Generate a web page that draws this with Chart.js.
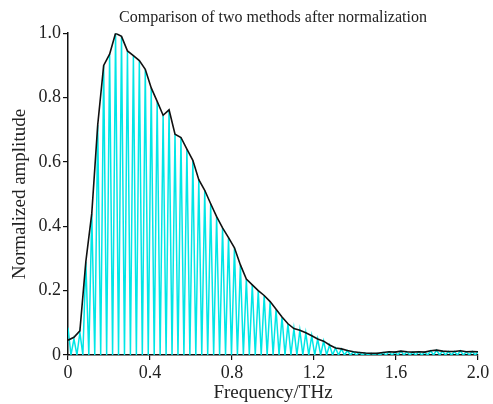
<!DOCTYPE html>
<html>
<head>
<meta charset="utf-8">
<script src="https://cdn.jsdelivr.net/npm/chart.js@4"></script>
<style>
	body { margin: 0; background: #fff; }
	#wrap { width: 493px; height: 404px; }
</style>
</head>
<body>
<div id="wrap"><canvas id="myChart" width="493" height="404"></canvas></div>
<script>
// Frequency samples (THz)
const frequency = [
	0, 0.029, 0.058, 0.087, 0.116, 0.145, 0.174, 0.203, 0.232, 0.261,
	0.29, 0.319, 0.348, 0.377, 0.406, 0.435, 0.464, 0.493, 0.522, 0.551,
	0.58, 0.609, 0.638, 0.667, 0.696, 0.725, 0.754, 0.783, 0.812, 0.841,
	0.87, 0.899, 0.928, 0.957, 0.986, 1.015, 1.044, 1.073, 1.102, 1.131,
	1.16, 1.189, 1.218, 1.247, 1.276, 1.305, 1.334, 1.363, 1.392, 1.421,
	1.45, 1.479, 1.508, 1.537, 1.566, 1.595, 1.624, 1.653, 1.682, 1.711,
	1.74, 1.769, 1.798, 1.827, 1.856, 1.885, 1.914, 1.943, 1.972, 2.0
];

// black envelope (method 1)
const envelope = [
	0.046, 0.055, 0.075, 0.29, 0.44, 0.715, 0.90, 0.935, 1.0, 0.99,
	0.945, 0.93, 0.915, 0.888, 0.83, 0.788, 0.745, 0.762, 0.686, 0.676,
	0.64, 0.605, 0.545, 0.512, 0.47, 0.43, 0.395, 0.365, 0.333, 0.28,
	0.236, 0.218, 0.20, 0.185, 0.166, 0.142, 0.118, 0.097, 0.082, 0.077,
	0.069, 0.06, 0.05, 0.043, 0.031, 0.022, 0.019, 0.014, 0.010, 0.008,
	0.006, 0.005, 0.005, 0.008, 0.010, 0.009, 0.012, 0.010, 0.009, 0.010,
	0.009, 0.013, 0.015, 0.012, 0.011, 0.011, 0.013, 0.010, 0.011, 0.010
];

// cyan oscillation (method 2): peak at each sample, trough halfway between
const cyanPeaks = [
	0.085, 0.05, 0.07, 0.29, 0.44, 0.715, 0.90, 0.935, 1.0, 0.99,
	0.945, 0.93, 0.915, 0.888, 0.83, 0.788, 0.745, 0.762, 0.686, 0.676,
	0.64, 0.605, 0.545, 0.512, 0.47, 0.43, 0.395, 0.365, 0.333, 0.28,
	0.236, 0.218, 0.20, 0.185, 0.166, 0.142, 0.118, 0.097, 0.082, 0.077,
	0.069, 0.06, 0.05, 0.043, 0.031, 0.022, 0.019, 0.014, 0.010, 0.008,
	0.006, 0.005, 0.005, 0.008, 0.010, 0.009, 0.012, 0.010, 0.009, 0.010,
	0.009, 0.013, 0.015, 0.012, 0.011, 0.011, 0.013, 0.010, 0.011, 0.010
];
const cyanTroughs = [
	0, 0, 0, 0, 0, 0, 0, 0, 0, 0,
	0, 0, 0, 0, 0, 0, 0, 0, 0, 0,
	0, 0, 0, 0, 0, 0, 0, 0, 0, 0,
	0, 0, 0, 0, 0, 0, 0, 0, 0, 0,
	0, 0, 0, 0, 0, 0, 0, 0, 0, 0,
	0, 0, 0, 0, 0, 0, 0, 0, 0, 0,
	0, 0, 0, 0, 0, 0, 0, 0, 0
];

const xTicks = [0, 0.4, 0.8, 1.2, 1.6, 2.0];
const yTicks = [0, 0.2, 0.4, 0.6, 0.8, 1.0];

const envPoints = frequency.map((f, i) => ({ x: f, y: envelope[i] }));
const cyanPoints = [];
frequency.forEach((f, i) => {
	cyanPoints.push({ x: f, y: cyanPeaks[i] });
	if (i < cyanTroughs.length) {
		cyanPoints.push({ x: (f + frequency[i + 1]) / 2, y: cyanTroughs[i] });
	}
});

const serif = "'Liberation Serif', 'Times New Roman', serif";
const textColor = "#222222";

function tickText(v) {
	return v === 0 ? "0" : v.toFixed(1);
}

var ctx = document.getElementById("myChart").getContext("2d");
var myChart = new Chart(ctx, {
	type: "line",
	data: {
		datasets: [
			{
				data: envPoints,
				borderColor: "#111111",
				borderWidth: 1.6,
				pointRadius: 0,
				tension: 0,
				order: 0,
			},
			{
				data: cyanPoints,
				borderColor: "#00e6e6",
				borderWidth: 1.5,
				pointRadius: 0,
				tension: 0,
				order: 1,
			},
		],
	},
	options: {
		responsive: false,
		animation: false,
		layout: {
			padding: { left: 0, right: 15, top: 0, bottom: 0 },
		},
		plugins: {
			legend: { display: false },
			tooltip: { enabled: false },
			title: {
				display: true,
				fullSize: false,
				text: "Comparison of two methods after normalization",
				color: textColor,
				font: { family: serif, size: 16, weight: "normal" },
				padding: { top: 8, bottom: 6 },
			},
		},
		scales: {
			x: {
				type: "linear",
				min: 0,
				max: 2.0,
				afterBuildTicks: (scale) => {
					scale.ticks = xTicks.map((v) => ({ value: v }));
				},
				afterFit: (scale) => {
					scale.height = 49;
				},
				grid: {
					display: true,
					drawOnChartArea: false,
					drawTicks: true,
					tickLength: 5,
					color: "#111111",
					lineWidth: 1.2,
				},
				border: { display: true, color: "#111111", width: 1.5 },
				ticks: {
					color: textColor,
					font: { family: serif, size: 18 },
					padding: 2,
					maxRotation: 0,
					callback: (v) => tickText(v),
				},
				title: {
					display: true,
					text: "Frequency/THz",
					color: textColor,
					font: { family: serif, size: 19 },
					padding: { top: 0, bottom: 0 },
				},
			},
			y: {
				min: 0,
				max: 1.0,
				afterBuildTicks: (scale) => {
					scale.ticks = yTicks.map((v) => ({ value: v }));
				},
				afterFit: (scale) => {
					scale.width = 68;
				},
				grid: {
					display: true,
					drawOnChartArea: false,
					drawTicks: true,
					tickLength: 5,
					color: "#111111",
					lineWidth: 1.2,
				},
				border: { display: true, color: "#111111", width: 1.5 },
				ticks: {
					color: textColor,
					font: { family: serif, size: 18 },
					padding: 2,
					callback: (v) => tickText(v),
				},
				title: {
					display: true,
					text: "Normalized amplitude",
					color: textColor,
					font: { family: serif, size: 19 },
					padding: { top: 9, bottom: 0 },
				},
			},
		},
	},
});
</script>
</body>
</html>
